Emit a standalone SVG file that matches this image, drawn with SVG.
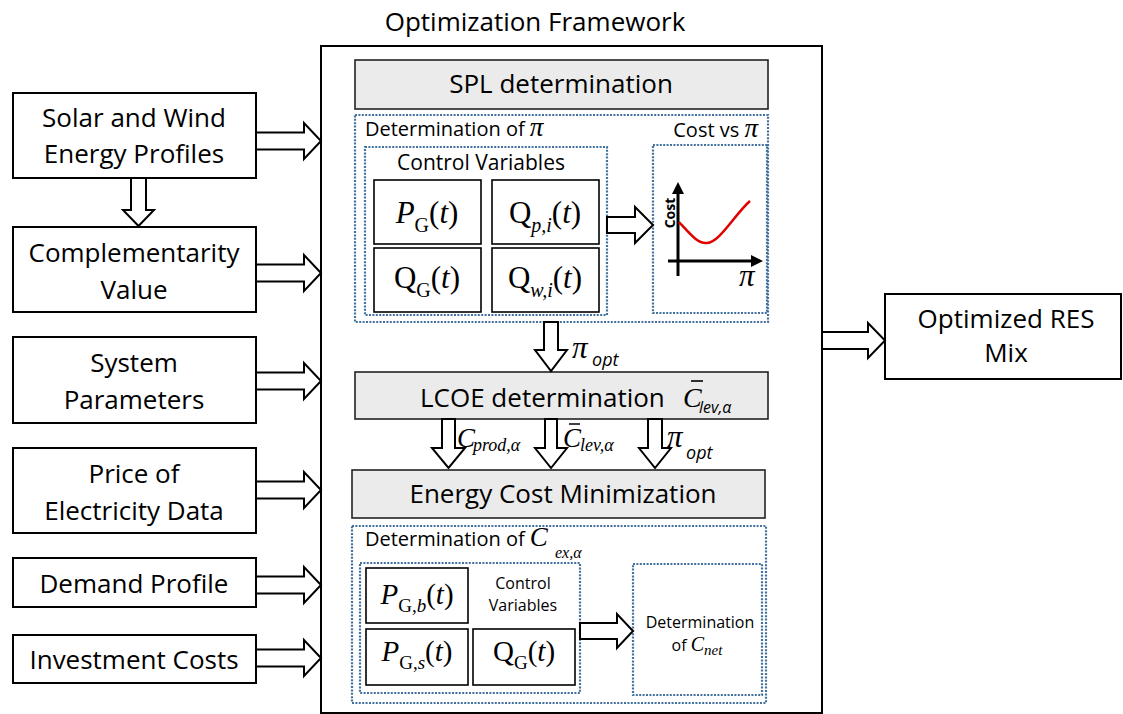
<svg xmlns="http://www.w3.org/2000/svg" width="1123" height="714" viewBox="0 0 1123 714">
<style>
.box{fill:#fff;stroke:#000;stroke-width:2}
.gbox{fill:#ebebeb;stroke:#222;stroke-width:1.6}
.vbox{fill:#fff;stroke:#000;stroke-width:1.6}
.dot{fill:none;stroke:#41719c;stroke-width:2.2;stroke-dasharray:2 1.4}
.arr{fill:#fff;stroke:#000;stroke-width:2;stroke-linejoin:miter}
.t{font-family:"Open Sans","Liberation Sans",sans-serif;font-size:26px;fill:#000}
.t20{font-family:"Open Sans","Liberation Sans",sans-serif;font-size:20px;fill:#000}
.t16{font-family:"Open Sans","Liberation Sans",sans-serif;font-size:16px;fill:#000}
.m{font-family:"Liberation Serif","DejaVu Serif",serif;fill:#000}
.mi{font-style:italic}
.si{font-family:"Open Sans","Liberation Sans",sans-serif;font-style:italic}
</style>

<text class="t" x="535" y="31" text-anchor="middle">Optimization Framework</text>

<g id="framework">
<rect class="box" x="321" y="46" width="501" height="667"/>
</g>

<g id="solar-wind">
<rect class="box" x="13" y="93" width="243" height="85"/>
<text class="t" x="134" y="127" text-anchor="middle">Solar and Wind</text>
<text class="t" x="134" y="163" text-anchor="middle">Energy Profiles</text>
</g>
<g id="complementarity">
<rect class="box" x="13" y="227" width="243" height="85"/>
<text class="t" x="134" y="262" text-anchor="middle">Complementarity</text>
<text class="t" x="134" y="299" text-anchor="middle">Value</text>
</g>
<g id="system-parameters">
<rect class="box" x="13" y="337" width="243" height="86"/>
<text class="t" x="134" y="372" text-anchor="middle">System</text>
<text class="t" x="134" y="409" text-anchor="middle">Parameters</text>
</g>
<g id="price">
<rect class="box" x="13" y="448" width="243" height="85"/>
<text class="t" x="134" y="483" text-anchor="middle">Price of</text>
<text class="t" x="134" y="520" text-anchor="middle">Electricity Data</text>
</g>
<g id="demand">
<rect class="box" x="13" y="558" width="243" height="49"/>
<text class="t" x="134" y="593" text-anchor="middle">Demand Profile</text>
</g>
<g id="investment">
<rect class="box" x="13" y="635" width="243" height="48"/>
<text class="t" x="134" y="669" text-anchor="middle">Investment Costs</text>
</g>
<g id="output">
<rect class="box" x="885" y="294" width="236" height="85"/>
<text class="t" x="1006" y="328" text-anchor="middle">Optimized RES</text>
<text class="t" x="1006" y="362" text-anchor="middle">Mix</text>
</g>

<g id="spl">
<rect class="gbox" x="355" y="60" width="413" height="49"/>
<text class="t" x="561" y="93" text-anchor="middle">SPL determination</text>
</g>

<g id="det-pi">
<rect class="dot" x="355" y="115" width="413" height="207"/>
<text class="t20" x="365" y="136">Determination of <tspan class="m mi" style="font-size:27px">π</tspan></text>
</g>
<g id="control-vars">
<rect class="dot" x="365" y="147" width="242" height="168"/>
<text class="t20" x="481" y="170" text-anchor="middle" style="font-size:21px">Control Variables</text>
<rect class="vbox" x="374" y="180" width="107" height="64"/>
<text class="m" x="427" y="223" text-anchor="middle" style="font-size:31px"><tspan class="mi">P</tspan><tspan style="font-size:20px" dy="9">G</tspan><tspan dy="-9">(</tspan><tspan class="mi">t</tspan>)</text>
<rect class="vbox" x="492" y="180" width="107" height="64"/>
<text class="m" x="545" y="223" text-anchor="middle" style="font-size:31px">Q<tspan class="mi" style="font-size:20px" dy="9">p,i</tspan><tspan dy="-9">(</tspan><tspan class="mi">t</tspan>)</text>
<rect class="vbox" x="374" y="248" width="107" height="64"/>
<text class="m" x="427" y="288" text-anchor="middle" style="font-size:31px">Q<tspan style="font-size:20px" dy="9">G</tspan><tspan dy="-9">(</tspan><tspan class="mi">t</tspan>)</text>
<rect class="vbox" x="492" y="248" width="107" height="64"/>
<text class="m" x="545" y="288" text-anchor="middle" style="font-size:31px">Q<tspan class="mi" style="font-size:20px" dy="9">w,i</tspan><tspan dy="-9">(</tspan><tspan class="mi">t</tspan>)</text>
</g>
<g id="cost-vs-pi">
<rect class="dot" x="653" y="145" width="114" height="168"/>
<text class="t20" x="758" y="137" text-anchor="end">Cost vs <tspan class="m mi" style="font-size:27px">π</tspan></text>
<line x1="678" y1="276" x2="678" y2="192" stroke="#000" stroke-width="3"/>
<polygon points="678,182 672,194 684,194" fill="#000"/>
<line x1="668" y1="261" x2="753" y2="261" stroke="#000" stroke-width="3"/>
<polygon points="763,261 751,255 751,267" fill="#000"/>
<path d="M679,222 C690,234 698,244 707,243 C720,242 735,214 750,201" fill="none" stroke="#e00000" stroke-width="2.5"/>
<text x="675" y="213" text-anchor="middle" transform="rotate(-90 675 213)" font-family="Open Sans, Liberation Sans, sans-serif" font-weight="bold" font-size="14">Cost</text>
<text class="m mi" x="739" y="286" style="font-size:31px">π</text>
</g>

<g id="lcoe">
<rect class="gbox" x="355" y="372" width="413" height="47"/>
<text class="t" x="420" y="407">LCOE determination</text>
<text class="m mi" x="683" y="407" style="font-size:28px">C</text>
<line x1="691" y1="381" x2="703" y2="381" stroke="#000" stroke-width="1.6"/>
<text class="si" x="699" y="413" style="font-size:16px">lev,α</text>
</g>

<g id="ecm">
<rect class="gbox" x="352" y="470" width="413" height="48"/>
<text class="t" x="563" y="503" text-anchor="middle">Energy Cost Minimization</text>
</g>

<g id="det-cex">
<rect class="dot" x="352" y="526" width="414" height="177"/>
<text class="t20" x="365" y="546">Determination of <tspan class="m mi" style="font-size:27px">C</tspan></text>
<text class="m mi" x="555" y="558" style="font-size:16px">ex,α</text>
</g>
<g id="control-vars-2">
<rect class="dot" x="360" y="563" width="220" height="130"/>
<rect class="vbox" x="366" y="568" width="102" height="55"/>
<text class="m" x="417" y="604" text-anchor="middle" style="font-size:29px"><tspan class="mi">P</tspan><tspan style="font-size:19px" dy="8">G,<tspan class="mi">b</tspan></tspan><tspan dy="-8">(</tspan><tspan class="mi">t</tspan>)</text>
<rect class="vbox" x="366" y="629" width="102" height="56"/>
<text class="m" x="417" y="661" text-anchor="middle" style="font-size:29px"><tspan class="mi">P</tspan><tspan style="font-size:19px" dy="8">G,<tspan class="mi">s</tspan></tspan><tspan dy="-8">(</tspan><tspan class="mi">t</tspan>)</text>
<rect class="vbox" x="473" y="629" width="102" height="56"/>
<text class="m" x="524" y="661" text-anchor="middle" style="font-size:29px">Q<tspan style="font-size:19px" dy="8">G</tspan><tspan dy="-8">(</tspan><tspan class="mi">t</tspan>)</text>
<text class="t16" x="523" y="589" text-anchor="middle">Control</text>
<text class="t16" x="523" y="611" text-anchor="middle">Variables</text>
</g>
<g id="det-cnet">
<rect class="dot" x="633" y="564" width="129" height="131"/>
<text class="t16" x="700" y="628" text-anchor="middle">Determination</text>
<text class="t16" x="697" y="651" text-anchor="middle">of <tspan class="m mi" style="font-size:20px">C</tspan><tspan class="m mi" style="font-size:15px" dy="4">net</tspan></text>
</g>

<g id="connectors">
<polygon class="arr" points="256,132.5 304,132.5 304,123 321,141 304,159 304,149.5 256,149.5"/>
<polygon class="arr" points="256,264.5 304,264.5 304,255 321,273 304,291 304,281.5 256,281.5"/>
<polygon class="arr" points="256,372.5 304,372.5 304,363 321,381 304,399 304,389.5 256,389.5"/>
<polygon class="arr" points="256,481.5 304,481.5 304,472 321,490 304,508 304,498.5 256,498.5"/>
<polygon class="arr" points="256,576.5 304,576.5 304,567 321,585 304,603 304,593.5 256,593.5"/>
<polygon class="arr" points="256,649.5 304,649.5 304,640 321,658 304,676 304,666.5 256,666.5"/>
<polygon class="arr" points="822,332 868,332 868,323 885,340.5 868,358 868,349 822,349"/>
<polygon class="arr" points="131,178 146,178 146,210 154,210 138.5,226 123,210 131,210"/>
<polygon class="arr" points="607,217 635,217 635,207 653,225 635,243 635,233 607,233"/>
<polygon class="arr" points="544,322 558,322 558,350 567,350 551,371 535,350 544,350"/>
<polygon class="arr" points="442,419 455,419 455,448 465,448 448.5,468 432,448 442,448"/>
<polygon class="arr" points="545,419 557,419 557,448 567,448 551,468 535,448 545,448"/>
<polygon class="arr" points="648,419 662,419 662,448 671,448 655,468 639,448 648,448"/>
<polygon class="arr" points="580,623 617,623 617,614 633,631 617,648 617,639 580,639"/>
</g>

<g id="labels">
<text class="m mi" x="572" y="358" style="font-size:31px">π</text>
<text class="si" x="592" y="366" style="font-size:18px">opt</text>
<text class="m mi" x="457" y="447" style="font-size:27px">C</text>
<text class="m mi" x="473" y="451" style="font-size:18px">prod,α</text>
<text class="m mi" x="563" y="447" style="font-size:27px">C</text>
<line x1="569" y1="424" x2="580" y2="424" stroke="#000" stroke-width="1.5"/>
<text class="m mi" x="580" y="451" style="font-size:18px">lev,α</text>
<text class="m mi" x="667" y="447" style="font-size:31px">π</text>
<text class="si" x="686" y="459" style="font-size:18px">opt</text>
</g>
</svg>
